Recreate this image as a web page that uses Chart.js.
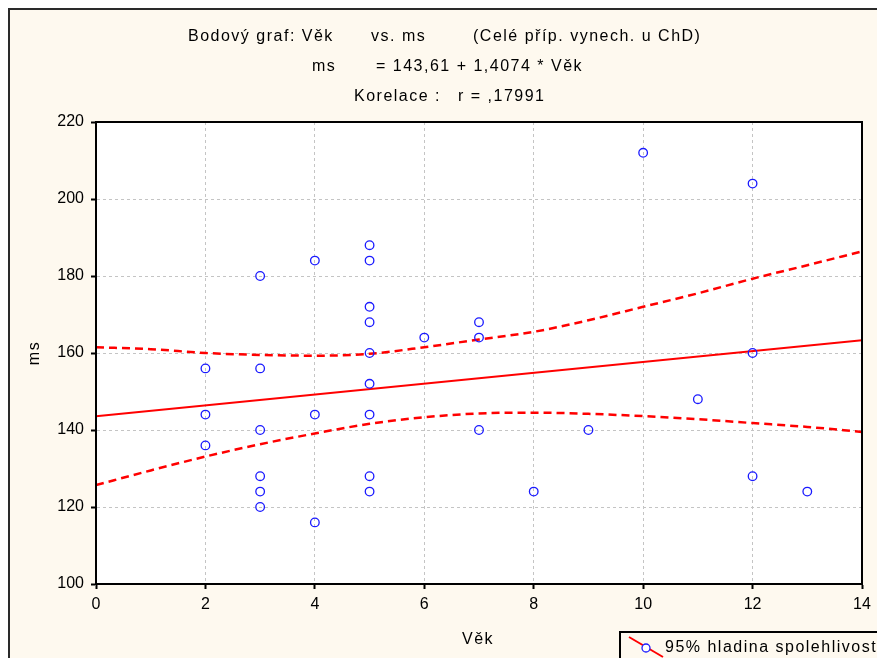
<!DOCTYPE html>
<html>
<head>
<meta charset="utf-8">
<script src="https://cdn.jsdelivr.net/npm/chart.js@4"></script>
<style>
  html, body { margin: 0; padding: 0; background: #fff; overflow: hidden; }
  #ramecek {
    position: absolute; left: 8px; top: 8px; width: 900px; height: 700px;
    border-left: 2px solid #2a2a2a; border-top: 2px solid #2a2a2a;
    background: #fef9ef;
  }
  #graf { position: absolute; left: 0; top: 0; }
</style>
</head>
<body>
<div id="ramecek"></div>
<canvas id="graf" width="877" height="658"></canvas>
<script>
// ------------------- Datos -------------------
const vek = [2, 2, 2, 3, 3, 3, 3, 3, 3, 4, 4, 4, 5, 5, 5, 5, 5, 5, 5, 5, 5, 6, 7, 7, 7, 8, 9, 10, 11, 12, 12, 12, 13];
const ms = [156, 144, 136, 180, 156, 140, 128, 124, 120, 184, 144, 116, 188, 184, 172, 168, 160, 152, 144, 128, 124, 164, 168, 164, 140, 124, 140, 212, 148, 204, 160, 128, 124];

// regresní přímka (koncové body)
const primkaX = [0, 14];
const primkaY = [143.6, 163.3];

// 95% pás spolehlivosti
const pasX = [0, 1, 2, 3, 4, 5, 6, 7, 8, 9, 10, 11, 12, 13, 14];
const pasHorni = [161.5, 161, 160, 159.5, 159.3, 159.8, 161.5, 163.5, 165.5, 168.5, 172, 175.5, 179.3, 182.8, 186.4];
const pasDolni = [125.7, 129.5, 133.1, 136.3, 139.1, 141.6, 143.3, 144.3, 144.5, 144.2, 143.6, 142.8, 141.8, 140.8, 139.5];

const xTicks = [0, 2, 4, 6, 8, 10, 12, 14];
const yTicks = [100, 120, 140, 160, 180, 200, 220];

// titulek po kouscích: [text, x, y]
const titulky = [
  ["Bodový graf: Věk", 188, 37],
  ["vs. ms", 371, 37],
  ["(Celé příp. vynech. u ChD)", 473, 37],
  ["ms", 312, 67],
  ["= 143,61 + 1,4074 * Věk", 376, 67],
  ["Korelace :", 354, 97],
  ["r = ,17991", 458, 97],
];
const popisX = "Věk";
const popisY = "ms";
const legenda = "95% hladina spolehlivosti";

const rodina = "'Liberation Sans', Arial, sans-serif";
const pismo = "16px " + rodina;
const cervena = "#ff0000";
const modra = "#1a1aff";

const toPts = (xs, ys) => xs.map((x, i) => ({ x: x, y: ys[i] }));

// pozadí, rámeček a texty
const kresleni = {
  id: "kresleni",
  beforeDraw(chart) {
    const { ctx, chartArea: a } = chart;
    ctx.save();
    ctx.fillStyle = "#ffffff";
    ctx.fillRect(a.left, a.top, a.right - a.left, a.bottom - a.top);
    ctx.restore();
  },
  afterDraw(chart) {
    const { ctx, chartArea: a } = chart;
    ctx.save();
    ctx.strokeStyle = "#000";
    ctx.lineWidth = 2;
    ctx.strokeRect(a.left, a.top, a.right - a.left, a.bottom - a.top);

    ctx.fillStyle = "#000";
    ctx.font = pismo;
    ctx.letterSpacing = "1.5px";
    ctx.textAlign = "left";
    ctx.textBaseline = "middle";
    titulky.forEach(([t, x, y]) => ctx.fillText(t, x, y));
    ctx.textAlign = "center";
    ctx.fillText(popisX, 478, 640);

    ctx.save();
    ctx.translate(35, 353);
    ctx.rotate(-Math.PI / 2);
    ctx.fillText(popisY, 0, 0);
    ctx.restore();

    // legenda
    ctx.fillStyle = "#fef9ef";
    ctx.fillRect(620, 632, 270, 40);
    ctx.strokeStyle = "#000";
    ctx.lineWidth = 2;
    ctx.strokeRect(620, 632, 270, 40);
    ctx.strokeStyle = cervena;
    ctx.beginPath();
    ctx.moveTo(629, 637);
    ctx.lineTo(663, 657);
    ctx.stroke();
    ctx.fillStyle = "#fff";
    ctx.strokeStyle = modra;
    ctx.lineWidth = 1.3;
    ctx.beginPath();
    ctx.arc(646, 648, 4, 0, Math.PI * 2);
    ctx.fill();
    ctx.stroke();
    ctx.fillStyle = "#000";
    ctx.textAlign = "left";
    ctx.fillText(legenda, 665, 648);
    ctx.restore();
  },
};

new Chart(document.getElementById("graf"), {
  type: "scatter",
  data: {
    datasets: [
      {
        label: "body",
        data: toPts(vek, ms),
        pointStyle: "circle",
        pointRadius: 4.3,
        pointBorderWidth: 1.3,
        pointBorderColor: modra,
        pointBackgroundColor: "rgba(0,0,0,0)",
        order: 1,
      },
      {
        label: "přímka",
        type: "line",
        data: toPts(primkaX, primkaY),
        borderColor: cervena,
        borderWidth: 2,
        pointRadius: 0,
        order: 2,
      },
      {
        label: "horní",
        type: "line",
        data: toPts(pasX, pasHorni),
        borderColor: cervena,
        borderWidth: 2.5,
        borderDash: [8, 5],
        cubicInterpolationMode: "monotone",
        pointRadius: 0,
        order: 2,
      },
      {
        label: "dolní",
        type: "line",
        data: toPts(pasX, pasDolni),
        borderColor: cervena,
        borderWidth: 2.5,
        borderDash: [8, 5],
        cubicInterpolationMode: "monotone",
        pointRadius: 0,
        order: 2,
      },
    ],
  },
  options: {
    responsive: false,
    animation: false,
    devicePixelRatio: 1,
    layout: { padding: { left: 0, right: 15, top: 122, bottom: 0 } },
    plugins: {
      legend: { display: false },
      title: { display: false },
      tooltip: { enabled: false },
    },
    scales: {
      x: {
        type: "linear",
        min: 0,
        max: 14,
        afterFit: (s) => { s.height = 74; },
        afterBuildTicks: (s) => { s.ticks = xTicks.map((v) => ({ value: v })); },
        ticks: { color: "#000", font: { family: rodina, size: 16 }, padding: 6, maxRotation: 0 },
        grid: { color: "#c4c4c4", tickColor: "#000", tickLength: 5, tickWidth: 2, tickBorderDash: [] },
        border: { color: "#000", width: 2, dash: [3, 3] },
      },
      y: {
        type: "linear",
        min: 100,
        max: 220,
        afterFit: (s) => { s.width = 96; },
        afterBuildTicks: (s) => { s.ticks = yTicks.map((v) => ({ value: v })); },
        ticks: { color: "#000", font: { family: rodina, size: 16 }, padding: 7 },
        grid: { color: "#c4c4c4", tickColor: "#000", tickLength: 5, tickWidth: 2, tickBorderDash: [] },
        border: { color: "#000", width: 2, dash: [3, 3] },
      },
    },
  },
  plugins: [kresleni],
});
</script>
</body>
</html>
